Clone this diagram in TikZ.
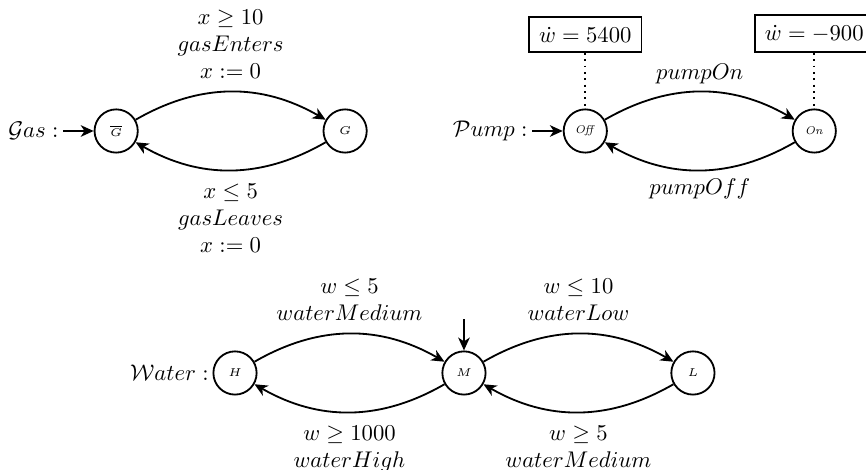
\documentclass[tikz,border=0pt]{standalone}
\usepackage{amsmath}
\usepackage{amssymb}
\usetikzlibrary{arrows.meta, positioning}
\tikzset{
  state/.style={circle, draw, thick, minimum size=0.67cm, inner sep=0pt, font=\tiny},
  initlabel/.style={inner sep=2pt},
  guard/.style={align=center, inner sep=5.5pt},
  ratebox/.style={rectangle, draw, thick, inner sep=4.4pt},
  arrow/.style={-{Stealth[length=2mm, width=1.8mm, inset=0.6mm]}, thick},
  link/.style={thick, dotted}
}

\begin{document}
\begin{tikzpicture}[node distance=2.85cm]
  \useasboundingbox (0,0) rectangle (13.42,-7.28);

  % gas
  \node[state] (gbar) at (1.80,-2.03) {$\overline{G}$};
  \node[state, right=of gbar] (g) {$G$};
  \node[initlabel, left=0.47cm of gbar] (gasinit) {$\mathcal{G}as :$};

  \draw[arrow] (gasinit) -- (gbar);
  \draw[arrow] (gbar) to[bend left=30] node[above, guard] {$x \geq 10$\\ $gasEnters$\\ $x := 0$} (g);
  \draw[arrow] (g) to[bend left=30] node[below, guard] {$x \leq 5$\\ $gasLeaves$\\ $x := 0$} (gbar);

  % pump
  \node[state] (off) at (9.07,-2.03) {$\mathit{Off}$};
  \node[state, right=of off] (on) {$\mathit{On}$};
  \node[initlabel, left=0.47cm of off] (pumpinit) {$\mathcal{P}ump :$};
  \node[ratebox, above=0.86cm of off] (offrate) {$\dot{w} = 5400$};
  \node[ratebox, above=0.86cm of on] (onrate) {$\dot{w} = -900$};

  \draw[arrow] (pumpinit) -- (off);
  \draw[link] (offrate) -- (off);
  \draw[link] (onrate) -- (on);
  \draw[arrow] (off) to[bend left=30] node[above] {$pumpOn$} (on);
  \draw[arrow] (on) to[bend left=30] node[below] {$pumpOff$} (off);

  % water
  \node[state] (m) at (7.19,-5.78) {$M$};
  \node[state, left=of m] (h) {$H$};
  \node[state, right=of m] (l) {$L$};
  \node[initlabel, inner sep=1.5pt, left=0cm of h] (waterinit) {$\mathcal{W}ater :$};
  \coordinate[above=0.48cm of m] (minit);

  \draw[arrow] (minit) -- (m);
  \draw[arrow] (h) to[bend left=30] node[above, guard] {$w \leq 5$\\ $waterMedium$} (m);
  \draw[arrow] (m) to[bend left=30] node[below, guard] {$w \geq 1000$\\ $waterHigh$} (h);
  \draw[arrow] (m) to[bend left=30] node[above, guard] {$w \leq 10$\\ $waterLow$} (l);
  \draw[arrow] (l) to[bend left=30] node[below, guard] {$w \geq 5$\\ $waterMedium$} (m);
\end{tikzpicture}
\end{document}
